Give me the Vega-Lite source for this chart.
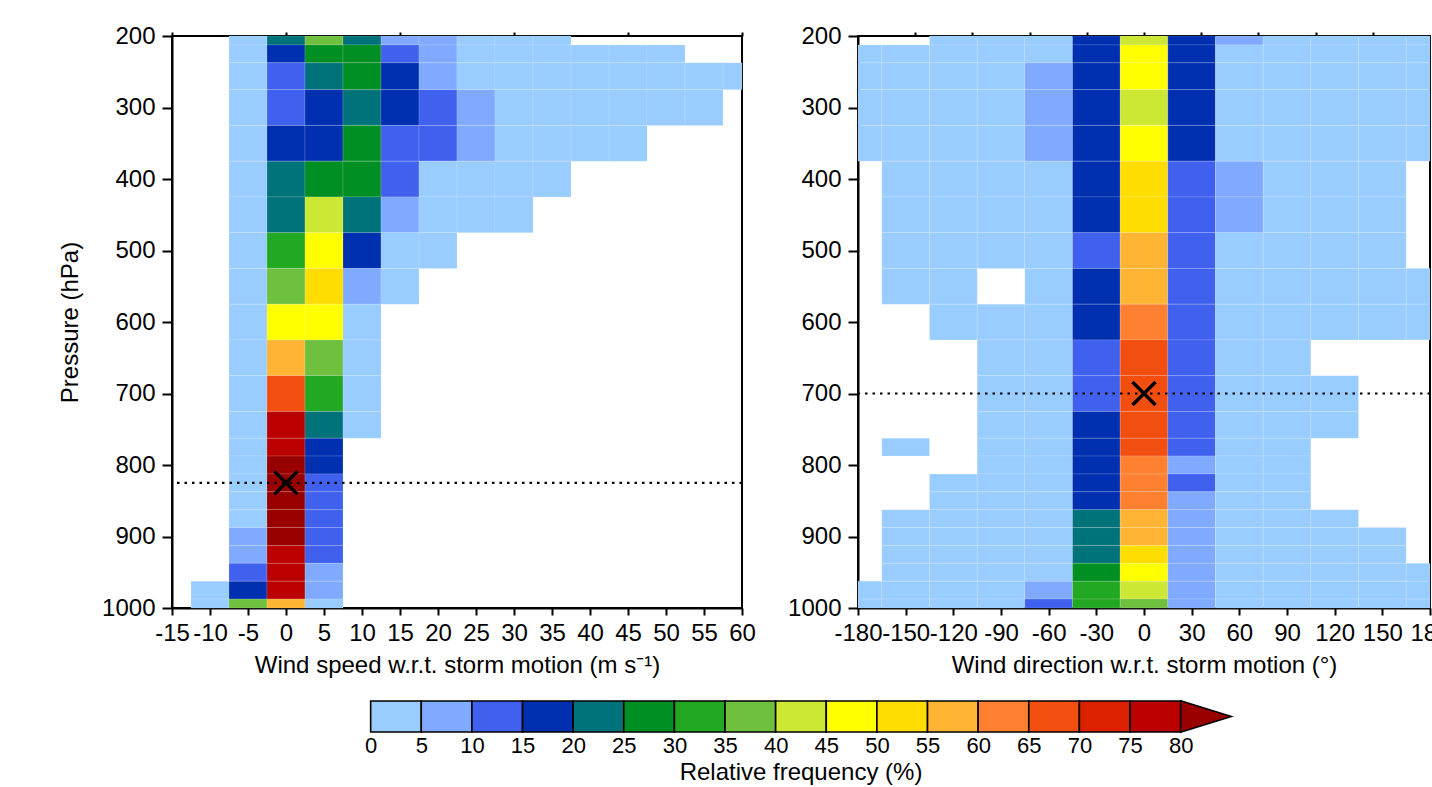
{
"$schema": "https://vega.github.io/schema/vega-lite/v6.json",
"background": "white",
"padding": {"left": 57, "top": 23, "right": 5, "bottom": 5},
"config": {
  "font": "Liberation Sans",
  "view": {"stroke": "black", "strokeWidth": 2},
  "axis": {"labelFont": "Liberation Sans", "titleFont": "Liberation Sans", "labelFontSize": 24, "titleFontSize": 24, "titleFontWeight": "normal", "labelColor": "black", "titleColor": "black", "domainColor": "black", "domainWidth": 2, "tickColor": "black", "tickWidth": 2, "grid": false, "labelOverlap": false, "labelFlush": false, "labelBound": false}
},
"datasets": {
  "levels": [{"p":200,"p0":200,"p1":212.5},{"p":225,"p0":212.5,"p1":237.5},{"p":250,"p0":237.5,"p1":275},{"p":300,"p0":275,"p1":325},{"p":350,"p0":325,"p1":375},{"p":400,"p0":375,"p1":425},{"p":450,"p0":425,"p1":475},{"p":500,"p0":475,"p1":525},{"p":550,"p0":525,"p1":575},{"p":600,"p0":575,"p1":625},{"p":650,"p0":625,"p1":675},{"p":700,"p0":675,"p1":725},{"p":750,"p0":725,"p1":762.5},{"p":775,"p0":762.5,"p1":787.5},{"p":800,"p0":787.5,"p1":812.5},{"p":825,"p0":812.5,"p1":837.5},{"p":850,"p0":837.5,"p1":862.5},{"p":875,"p0":862.5,"p1":887.5},{"p":900,"p0":887.5,"p1":912.5},{"p":925,"p0":912.5,"p1":937.5},{"p":950,"p0":937.5,"p1":962.5},{"p":975,"p0":962.5,"p1":987.5},{"p":1000,"p0":987.5,"p1":1000}],
  "speedcols": [{"x":-10,"x0":-12.5,"x1":-7.5},{"x":-5,"x0":-7.5,"x1":-2.5},{"x":0,"x0":-2.5,"x1":2.5},{"x":5,"x0":2.5,"x1":7.5},{"x":10,"x0":7.5,"x1":12.5},{"x":15,"x0":12.5,"x1":17.5},{"x":20,"x0":17.5,"x1":22.5},{"x":25,"x0":22.5,"x1":27.5},{"x":30,"x0":27.5,"x1":32.5},{"x":35,"x0":32.5,"x1":37.5},{"x":40,"x0":37.5,"x1":42.5},{"x":45,"x0":42.5,"x1":47.5},{"x":50,"x0":47.5,"x1":52.5},{"x":55,"x0":52.5,"x1":57.5},{"x":60,"x0":57.5,"x1":60}],
  "dircols": [{"x":-180,"x0":-180,"x1":-165},{"x":-150,"x0":-165,"x1":-135},{"x":-120,"x0":-135,"x1":-105},{"x":-90,"x0":-105,"x1":-75},{"x":-60,"x0":-75,"x1":-45},{"x":-30,"x0":-45,"x1":-15},{"x":0,"x0":-15,"x1":15},{"x":30,"x0":15,"x1":45},{"x":60,"x0":45,"x1":75},{"x":90,"x0":75,"x1":105},{"x":120,"x0":105,"x1":135},{"x":150,"x0":135,"x1":165},{"x":180,"x0":165,"x1":180}],
  "speed": [
    {"p":200,"x":-5,"f":2.5},{"p":200,"x":0,"f":22.5},{"p":200,"x":5,"f":37.5},{"p":200,"x":10,"f":22.5},{"p":200,"x":15,"f":7.5},{"p":200,"x":20,"f":7.5},{"p":200,"x":25,"f":2.5},{"p":200,"x":30,"f":2.5},{"p":200,"x":35,"f":2.5},
    {"p":225,"x":-5,"f":2.5},{"p":225,"x":0,"f":17.5},{"p":225,"x":5,"f":27.5},{"p":225,"x":10,"f":27.5},{"p":225,"x":15,"f":12.5},{"p":225,"x":20,"f":7.5},{"p":225,"x":25,"f":2.5},{"p":225,"x":30,"f":2.5},{"p":225,"x":35,"f":2.5},{"p":225,"x":40,"f":2.5},{"p":225,"x":45,"f":2.5},{"p":225,"x":50,"f":2.5},
    {"p":250,"x":-5,"f":2.5},{"p":250,"x":0,"f":12.5},{"p":250,"x":5,"f":22.5},{"p":250,"x":10,"f":27.5},{"p":250,"x":15,"f":17.5},{"p":250,"x":20,"f":7.5},{"p":250,"x":25,"f":2.5},{"p":250,"x":30,"f":2.5},{"p":250,"x":35,"f":2.5},{"p":250,"x":40,"f":2.5},{"p":250,"x":45,"f":2.5},{"p":250,"x":50,"f":2.5},{"p":250,"x":55,"f":2.5},{"p":250,"x":60,"f":2.5},
    {"p":300,"x":-5,"f":2.5},{"p":300,"x":0,"f":12.5},{"p":300,"x":5,"f":17.5},{"p":300,"x":10,"f":22.5},{"p":300,"x":15,"f":17.5},{"p":300,"x":20,"f":12.5},{"p":300,"x":25,"f":7.5},{"p":300,"x":30,"f":2.5},{"p":300,"x":35,"f":2.5},{"p":300,"x":40,"f":2.5},{"p":300,"x":45,"f":2.5},{"p":300,"x":50,"f":2.5},{"p":300,"x":55,"f":2.5},
    {"p":350,"x":-5,"f":2.5},{"p":350,"x":0,"f":17.5},{"p":350,"x":5,"f":17.5},{"p":350,"x":10,"f":27.5},{"p":350,"x":15,"f":12.5},{"p":350,"x":20,"f":12.5},{"p":350,"x":25,"f":7.5},{"p":350,"x":30,"f":2.5},{"p":350,"x":35,"f":2.5},{"p":350,"x":40,"f":2.5},{"p":350,"x":45,"f":2.5},
    {"p":400,"x":-5,"f":2.5},{"p":400,"x":0,"f":22.5},{"p":400,"x":5,"f":27.5},{"p":400,"x":10,"f":27.5},{"p":400,"x":15,"f":12.5},{"p":400,"x":20,"f":2.5},{"p":400,"x":25,"f":2.5},{"p":400,"x":30,"f":2.5},{"p":400,"x":35,"f":2.5},
    {"p":450,"x":-5,"f":2.5},{"p":450,"x":0,"f":22.5},{"p":450,"x":5,"f":42.5},{"p":450,"x":10,"f":22.5},{"p":450,"x":15,"f":7.5},{"p":450,"x":20,"f":2.5},{"p":450,"x":25,"f":2.5},{"p":450,"x":30,"f":2.5},
    {"p":500,"x":-5,"f":2.5},{"p":500,"x":0,"f":32.5},{"p":500,"x":5,"f":47.5},{"p":500,"x":10,"f":17.5},{"p":500,"x":15,"f":2.5},{"p":500,"x":20,"f":2.5},
    {"p":550,"x":-5,"f":2.5},{"p":550,"x":0,"f":37.5},{"p":550,"x":5,"f":52.5},{"p":550,"x":10,"f":7.5},{"p":550,"x":15,"f":2.5},
    {"p":600,"x":-5,"f":2.5},{"p":600,"x":0,"f":47.5},{"p":600,"x":5,"f":47.5},{"p":600,"x":10,"f":2.5},
    {"p":650,"x":-5,"f":2.5},{"p":650,"x":0,"f":57.5},{"p":650,"x":5,"f":37.5},{"p":650,"x":10,"f":2.5},
    {"p":700,"x":-5,"f":2.5},{"p":700,"x":0,"f":67.5},{"p":700,"x":5,"f":32.5},{"p":700,"x":10,"f":2.5},
    {"p":750,"x":-5,"f":2.5},{"p":750,"x":0,"f":77.5},{"p":750,"x":5,"f":22.5},{"p":750,"x":10,"f":2.5},
    {"p":775,"x":-5,"f":2.5},{"p":775,"x":0,"f":77.5},{"p":775,"x":5,"f":17.5},
    {"p":800,"x":-5,"f":2.5},{"p":800,"x":0,"f":85},{"p":800,"x":5,"f":17.5},
    {"p":825,"x":-5,"f":2.5},{"p":825,"x":0,"f":85},{"p":825,"x":5,"f":12.5},
    {"p":850,"x":-5,"f":2.5},{"p":850,"x":0,"f":85},{"p":850,"x":5,"f":12.5},
    {"p":875,"x":-5,"f":2.5},{"p":875,"x":0,"f":85},{"p":875,"x":5,"f":12.5},
    {"p":900,"x":-5,"f":7.5},{"p":900,"x":0,"f":85},{"p":900,"x":5,"f":12.5},
    {"p":925,"x":-5,"f":7.5},{"p":925,"x":0,"f":77.5},{"p":925,"x":5,"f":12.5},
    {"p":950,"x":-5,"f":12.5},{"p":950,"x":0,"f":77.5},{"p":950,"x":5,"f":7.5},
    {"p":975,"x":-10,"f":2.5},{"p":975,"x":-5,"f":17.5},{"p":975,"x":0,"f":77.5},{"p":975,"x":5,"f":7.5},
    {"p":1000,"x":-10,"f":2.5},{"p":1000,"x":-5,"f":37.5},{"p":1000,"x":0,"f":57.5},{"p":1000,"x":5,"f":2.5}
  ],
  "direction": [
    {"p":200,"x":-120,"f":2.5},{"p":200,"x":-90,"f":2.5},{"p":200,"x":-60,"f":2.5},{"p":200,"x":-30,"f":17.5},{"p":200,"x":0,"f":42.5},{"p":200,"x":30,"f":17.5},{"p":200,"x":60,"f":7.5},{"p":200,"x":90,"f":2.5},{"p":200,"x":120,"f":2.5},{"p":200,"x":150,"f":2.5},{"p":200,"x":180,"f":2.5},
    {"p":225,"x":-180,"f":2.5},{"p":225,"x":-150,"f":2.5},{"p":225,"x":-120,"f":2.5},{"p":225,"x":-90,"f":2.5},{"p":225,"x":-60,"f":2.5},{"p":225,"x":-30,"f":17.5},{"p":225,"x":0,"f":47.5},{"p":225,"x":30,"f":17.5},{"p":225,"x":60,"f":2.5},{"p":225,"x":90,"f":2.5},{"p":225,"x":120,"f":2.5},{"p":225,"x":150,"f":2.5},{"p":225,"x":180,"f":2.5},
    {"p":250,"x":-180,"f":2.5},{"p":250,"x":-150,"f":2.5},{"p":250,"x":-120,"f":2.5},{"p":250,"x":-90,"f":2.5},{"p":250,"x":-60,"f":7.5},{"p":250,"x":-30,"f":17.5},{"p":250,"x":0,"f":47.5},{"p":250,"x":30,"f":17.5},{"p":250,"x":60,"f":2.5},{"p":250,"x":90,"f":2.5},{"p":250,"x":120,"f":2.5},{"p":250,"x":150,"f":2.5},{"p":250,"x":180,"f":2.5},
    {"p":300,"x":-180,"f":2.5},{"p":300,"x":-150,"f":2.5},{"p":300,"x":-120,"f":2.5},{"p":300,"x":-90,"f":2.5},{"p":300,"x":-60,"f":7.5},{"p":300,"x":-30,"f":17.5},{"p":300,"x":0,"f":42.5},{"p":300,"x":30,"f":17.5},{"p":300,"x":60,"f":2.5},{"p":300,"x":90,"f":2.5},{"p":300,"x":120,"f":2.5},{"p":300,"x":150,"f":2.5},{"p":300,"x":180,"f":2.5},
    {"p":350,"x":-180,"f":2.5},{"p":350,"x":-150,"f":2.5},{"p":350,"x":-120,"f":2.5},{"p":350,"x":-90,"f":2.5},{"p":350,"x":-60,"f":7.5},{"p":350,"x":-30,"f":17.5},{"p":350,"x":0,"f":47.5},{"p":350,"x":30,"f":17.5},{"p":350,"x":60,"f":2.5},{"p":350,"x":90,"f":2.5},{"p":350,"x":120,"f":2.5},{"p":350,"x":150,"f":2.5},{"p":350,"x":180,"f":2.5},
    {"p":400,"x":-150,"f":2.5},{"p":400,"x":-120,"f":2.5},{"p":400,"x":-90,"f":2.5},{"p":400,"x":-60,"f":2.5},{"p":400,"x":-30,"f":17.5},{"p":400,"x":0,"f":52.5},{"p":400,"x":30,"f":12.5},{"p":400,"x":60,"f":7.5},{"p":400,"x":90,"f":2.5},{"p":400,"x":120,"f":2.5},{"p":400,"x":150,"f":2.5},
    {"p":450,"x":-150,"f":2.5},{"p":450,"x":-120,"f":2.5},{"p":450,"x":-90,"f":2.5},{"p":450,"x":-60,"f":2.5},{"p":450,"x":-30,"f":17.5},{"p":450,"x":0,"f":52.5},{"p":450,"x":30,"f":12.5},{"p":450,"x":60,"f":7.5},{"p":450,"x":90,"f":2.5},{"p":450,"x":120,"f":2.5},{"p":450,"x":150,"f":2.5},
    {"p":500,"x":-150,"f":2.5},{"p":500,"x":-120,"f":2.5},{"p":500,"x":-90,"f":2.5},{"p":500,"x":-60,"f":2.5},{"p":500,"x":-30,"f":12.5},{"p":500,"x":0,"f":57.5},{"p":500,"x":30,"f":12.5},{"p":500,"x":60,"f":2.5},{"p":500,"x":90,"f":2.5},{"p":500,"x":120,"f":2.5},{"p":500,"x":150,"f":2.5},
    {"p":550,"x":-150,"f":2.5},{"p":550,"x":-120,"f":2.5},{"p":550,"x":-60,"f":2.5},{"p":550,"x":-30,"f":17.5},{"p":550,"x":0,"f":57.5},{"p":550,"x":30,"f":12.5},{"p":550,"x":60,"f":2.5},{"p":550,"x":90,"f":2.5},{"p":550,"x":120,"f":2.5},{"p":550,"x":150,"f":2.5},{"p":550,"x":180,"f":2.5},
    {"p":600,"x":-120,"f":2.5},{"p":600,"x":-90,"f":2.5},{"p":600,"x":-60,"f":2.5},{"p":600,"x":-30,"f":17.5},{"p":600,"x":0,"f":62.5},{"p":600,"x":30,"f":12.5},{"p":600,"x":60,"f":2.5},{"p":600,"x":90,"f":2.5},{"p":600,"x":120,"f":2.5},{"p":600,"x":150,"f":2.5},{"p":600,"x":180,"f":2.5},
    {"p":650,"x":-90,"f":2.5},{"p":650,"x":-60,"f":2.5},{"p":650,"x":-30,"f":12.5},{"p":650,"x":0,"f":67.5},{"p":650,"x":30,"f":12.5},{"p":650,"x":60,"f":2.5},{"p":650,"x":90,"f":2.5},
    {"p":700,"x":-90,"f":2.5},{"p":700,"x":-60,"f":2.5},{"p":700,"x":-30,"f":12.5},{"p":700,"x":0,"f":67.5},{"p":700,"x":30,"f":12.5},{"p":700,"x":60,"f":2.5},{"p":700,"x":90,"f":2.5},{"p":700,"x":120,"f":2.5},
    {"p":750,"x":-90,"f":2.5},{"p":750,"x":-60,"f":2.5},{"p":750,"x":-30,"f":17.5},{"p":750,"x":0,"f":67.5},{"p":750,"x":30,"f":12.5},{"p":750,"x":60,"f":2.5},{"p":750,"x":90,"f":2.5},{"p":750,"x":120,"f":2.5},
    {"p":775,"x":-150,"f":2.5},{"p":775,"x":-90,"f":2.5},{"p":775,"x":-60,"f":2.5},{"p":775,"x":-30,"f":17.5},{"p":775,"x":0,"f":67.5},{"p":775,"x":30,"f":12.5},{"p":775,"x":60,"f":2.5},{"p":775,"x":90,"f":2.5},
    {"p":800,"x":-90,"f":2.5},{"p":800,"x":-60,"f":2.5},{"p":800,"x":-30,"f":17.5},{"p":800,"x":0,"f":62.5},{"p":800,"x":30,"f":7.5},{"p":800,"x":60,"f":2.5},{"p":800,"x":90,"f":2.5},
    {"p":825,"x":-120,"f":2.5},{"p":825,"x":-90,"f":2.5},{"p":825,"x":-60,"f":2.5},{"p":825,"x":-30,"f":17.5},{"p":825,"x":0,"f":62.5},{"p":825,"x":30,"f":12.5},{"p":825,"x":60,"f":2.5},{"p":825,"x":90,"f":2.5},
    {"p":850,"x":-120,"f":2.5},{"p":850,"x":-90,"f":2.5},{"p":850,"x":-60,"f":2.5},{"p":850,"x":-30,"f":17.5},{"p":850,"x":0,"f":62.5},{"p":850,"x":30,"f":7.5},{"p":850,"x":60,"f":2.5},{"p":850,"x":90,"f":2.5},
    {"p":875,"x":-150,"f":2.5},{"p":875,"x":-120,"f":2.5},{"p":875,"x":-90,"f":2.5},{"p":875,"x":-60,"f":2.5},{"p":875,"x":-30,"f":22.5},{"p":875,"x":0,"f":57.5},{"p":875,"x":30,"f":7.5},{"p":875,"x":60,"f":2.5},{"p":875,"x":90,"f":2.5},{"p":875,"x":120,"f":2.5},
    {"p":900,"x":-150,"f":2.5},{"p":900,"x":-120,"f":2.5},{"p":900,"x":-90,"f":2.5},{"p":900,"x":-60,"f":2.5},{"p":900,"x":-30,"f":22.5},{"p":900,"x":0,"f":57.5},{"p":900,"x":30,"f":7.5},{"p":900,"x":60,"f":2.5},{"p":900,"x":90,"f":2.5},{"p":900,"x":120,"f":2.5},{"p":900,"x":150,"f":2.5},
    {"p":925,"x":-150,"f":2.5},{"p":925,"x":-120,"f":2.5},{"p":925,"x":-90,"f":2.5},{"p":925,"x":-60,"f":2.5},{"p":925,"x":-30,"f":22.5},{"p":925,"x":0,"f":52.5},{"p":925,"x":30,"f":7.5},{"p":925,"x":60,"f":2.5},{"p":925,"x":90,"f":2.5},{"p":925,"x":120,"f":2.5},{"p":925,"x":150,"f":2.5},
    {"p":950,"x":-150,"f":2.5},{"p":950,"x":-120,"f":2.5},{"p":950,"x":-90,"f":2.5},{"p":950,"x":-60,"f":2.5},{"p":950,"x":-30,"f":27.5},{"p":950,"x":0,"f":47.5},{"p":950,"x":30,"f":7.5},{"p":950,"x":60,"f":2.5},{"p":950,"x":90,"f":2.5},{"p":950,"x":120,"f":2.5},{"p":950,"x":150,"f":2.5},{"p":950,"x":180,"f":2.5},
    {"p":975,"x":-180,"f":2.5},{"p":975,"x":-150,"f":2.5},{"p":975,"x":-120,"f":2.5},{"p":975,"x":-90,"f":2.5},{"p":975,"x":-60,"f":7.5},{"p":975,"x":-30,"f":32.5},{"p":975,"x":0,"f":42.5},{"p":975,"x":30,"f":7.5},{"p":975,"x":60,"f":2.5},{"p":975,"x":90,"f":2.5},{"p":975,"x":120,"f":2.5},{"p":975,"x":150,"f":2.5},{"p":975,"x":180,"f":2.5},
    {"p":1000,"x":-180,"f":2.5},{"p":1000,"x":-150,"f":2.5},{"p":1000,"x":-120,"f":2.5},{"p":1000,"x":-90,"f":2.5},{"p":1000,"x":-60,"f":12.5},{"p":1000,"x":-30,"f":32.5},{"p":1000,"x":0,"f":37.5},{"p":1000,"x":30,"f":7.5},{"p":1000,"x":60,"f":2.5},{"p":1000,"x":90,"f":2.5},{"p":1000,"x":120,"f":2.5},{"p":1000,"x":150,"f":2.5},{"p":1000,"x":180,"f":2.5}
  ],
  "legendbins": [{"lo":0,"hi":5,"f":2.5},{"lo":5,"hi":10,"f":7.5},{"lo":10,"hi":15,"f":12.5},{"lo":15,"hi":20,"f":17.5},{"lo":20,"hi":25,"f":22.5},{"lo":25,"hi":30,"f":27.5},{"lo":30,"hi":35,"f":32.5},{"lo":35,"hi":40,"f":37.5},{"lo":40,"hi":45,"f":42.5},{"lo":45,"hi":50,"f":47.5},{"lo":50,"hi":55,"f":52.5},{"lo":55,"hi":60,"f":57.5},{"lo":60,"hi":65,"f":62.5},{"lo":65,"hi":70,"f":67.5},{"lo":70,"hi":75,"f":72.5},{"lo":75,"hi":80,"f":77.5}],
  "legendarrow": [{"x":82.5,"f":85}]
},
"vconcat": [
  {
    "hconcat": [
      {
        "width": 570, "height": 572,
        "layer": [
          {
            "data": {"name": "speed"},
            "transform": [
              {"lookup": "p", "from": {"data": {"name": "levels"}, "key": "p", "fields": ["p0", "p1"]}},
              {"lookup": "x", "from": {"data": {"name": "speedcols"}, "key": "x", "fields": ["x0", "x1"]}}
            ],
            "mark": {"type": "rect", "stroke": "white", "strokeOpacity": 0.25, "strokeWidth": 0.6},
            "encoding": {
              "x": {"field": "x0", "type": "quantitative", "scale": {"domain": [-15, 60], "nice": false, "zero": false},
                    "axis": {"title": "Wind speed w.r.t. storm motion (m s⁻¹)", "orient": "bottom", "values": [-15,-10,-5,0,5,10,15,20,25,30,35,40,45,50,55,60], "labelExpr": "'' + datum.value", "tickSize": 7, "labelPadding": 6, "titlePadding": 8}},
              "x2": {"field": "x1"},
              "y": {"field": "p0", "type": "quantitative", "scale": {"domain": [200, 1000], "reverse": true, "nice": false, "zero": false},
                    "axis": {"title": "Pressure (hPa)", "orient": "left", "values": [200,300,400,500,600,700,800,900,1000], "labelExpr": "'' + datum.value", "tickSize": 10, "labelPadding": 7, "titlePadding": 19}},
              "y2": {"field": "p1"},
              "color": {"field": "f", "type": "quantitative", "legend": null,
                        "scale": {"type": "threshold", "domain": [5,10,15,20,25,30,35,40,45,50,55,60,65,70,75,80],
                                  "range": ["#99CCFF","#80AAFF","#4060EE","#0030B0","#00737A","#008F22","#22A822","#70C040","#CCE835","#FFFF00","#FFDD00","#FFB533","#FF8030","#F24E10","#DD2000","#BB0000","#990000"]}}
            }
          },
          {
            "data": {"values": [{"x": 0, "p": 825}]},
            "layer": [
              {"mark": {"type": "rule", "strokeDash": [2.5, 5], "strokeWidth": 2.2, "color": "black"},
               "encoding": {"y": {"field": "p", "type": "quantitative", "scale": {"domain": [200, 1000], "reverse": true, "nice": false, "zero": false},
                                  "axis": {"orient": "left", "values": [225,250,350,450,550,650,750,775,825,850,875,925,950,975], "labels": false, "tickSize": 5, "domain": false, "title": null}}}},
              {"mark": {"type": "point", "shape": "M-1,-1L1,1M-1,1L1,-1", "size": 530, "filled": false, "color": "black", "strokeWidth": 3.5, "opacity": 1},
               "encoding": {"x": {"field": "x", "type": "quantitative", "scale": {"domain": [-15, 60], "nice": false, "zero": false},
                                  "axis": {"orient": "top", "values": [-15,0,15,30,45,60], "labels": false, "tickSize": 4, "domain": false, "title": null}},
                            "y": {"field": "p", "type": "quantitative", "axis": null}}}
            ]
          }
        ],
        "resolve": {"axis": {"x": "independent", "y": "independent"}}
      },
      {
        "width": 572, "height": 572,
        "layer": [
          {
            "data": {"name": "direction"},
            "transform": [
              {"lookup": "p", "from": {"data": {"name": "levels"}, "key": "p", "fields": ["p0", "p1"]}},
              {"lookup": "x", "from": {"data": {"name": "dircols"}, "key": "x", "fields": ["x0", "x1"]}}
            ],
            "mark": {"type": "rect", "stroke": "white", "strokeOpacity": 0.25, "strokeWidth": 0.6},
            "encoding": {
              "x": {"field": "x0", "type": "quantitative", "scale": {"domain": [-180, 180], "nice": false, "zero": false},
                    "axis": {"title": "Wind direction w.r.t. storm motion (°)", "orient": "bottom", "values": [-180,-150,-120,-90,-60,-30,0,30,60,90,120,150,180], "labelExpr": "'' + datum.value", "tickSize": 7, "labelPadding": 6, "titlePadding": 8}},
              "x2": {"field": "x1"},
              "y": {"field": "p0", "type": "quantitative", "scale": {"domain": [200, 1000], "reverse": true, "nice": false, "zero": false},
                    "axis": {"title": null, "orient": "left", "values": [200,300,400,500,600,700,800,900,1000], "labelExpr": "'' + datum.value", "tickSize": 10, "labelPadding": 7}},
              "y2": {"field": "p1"},
              "color": {"field": "f", "type": "quantitative", "legend": null,
                        "scale": {"type": "threshold", "domain": [5,10,15,20,25,30,35,40,45,50,55,60,65,70,75,80],
                                  "range": ["#99CCFF","#80AAFF","#4060EE","#0030B0","#00737A","#008F22","#22A822","#70C040","#CCE835","#FFFF00","#FFDD00","#FFB533","#FF8030","#F24E10","#DD2000","#BB0000","#990000"]}}
            }
          },
          {
            "data": {"values": [{"x": 0, "p": 700}]},
            "layer": [
              {"mark": {"type": "rule", "strokeDash": [2.5, 5], "strokeWidth": 2.2, "color": "black"},
               "encoding": {"y": {"field": "p", "type": "quantitative", "scale": {"domain": [200, 1000], "reverse": true, "nice": false, "zero": false},
                                  "axis": {"orient": "left", "values": [225,250,350,450,550,650,750,775,825,850,875,925,950,975], "labels": false, "tickSize": 5, "domain": false, "title": null}}}},
              {"mark": {"type": "point", "shape": "M-1,-1L1,1M-1,1L1,-1", "size": 530, "filled": false, "color": "black", "strokeWidth": 3.5, "opacity": 1},
               "encoding": {"x": {"field": "x", "type": "quantitative", "scale": {"domain": [-180, 180], "nice": false, "zero": false},
                                  "axis": {"orient": "top", "values": [-144,-108,-72,-36,0,36,72,108,144], "labels": false, "tickSize": 4, "domain": false, "title": null}},
                            "y": {"field": "p", "type": "quantitative", "axis": null}}}
            ]
          }
        ],
        "resolve": {"axis": {"x": "independent", "y": "independent"}}
      }
    ],
    "spacing": 29
  },
  {
    "width": 1257, "height": 31,
    "view": {"stroke": null},
    "layer": [
      {
        "data": {"name": "legendbins"},
        "mark": {"type": "rect", "stroke": "black", "strokeWidth": 1.6},
        "encoding": {
          "x": {"field": "lo", "type": "quantitative", "scale": {"domain": [-19.62, 104.53], "nice": false, "zero": false},
                "axis": {"title": "Relative frequency (%)", "orient": "bottom", "values": [0,5,10,15,20,25,30,35,40,45,50,55,60,65,70,75,80], "labelExpr": "'' + datum.value", "ticks": false, "domain": false, "labelPadding": 3, "labelFontSize": 22, "titlePadding": 4}},
          "x2": {"field": "hi"},
          "color": {"field": "f", "type": "quantitative", "legend": null,
                    "scale": {"type": "threshold", "domain": [5,10,15,20,25,30,35,40,45,50,55,60,65,70,75,80],
                              "range": ["#99CCFF","#80AAFF","#4060EE","#0030B0","#00737A","#008F22","#22A822","#70C040","#CCE835","#FFFF00","#FFDD00","#FFB533","#FF8030","#F24E10","#DD2000","#BB0000","#990000"]}}
        }
      },
      {
        "data": {"name": "legendarrow"},
        "mark": {"type": "point", "shape": "M-1,-0.62L1,0L-1,0.62Z", "size": 2560, "filled": true, "stroke": "black", "strokeWidth": 1.6, "opacity": 1},
        "encoding": {
          "x": {"field": "x", "type": "quantitative", "scale": {"domain": [-19.62, 104.53], "nice": false, "zero": false}, "axis": null},
          "color": {"field": "f", "type": "quantitative", "legend": null,
                    "scale": {"type": "threshold", "domain": [5,10,15,20,25,30,35,40,45,50,55,60,65,70,75,80],
                              "range": ["#99CCFF","#80AAFF","#4060EE","#0030B0","#00737A","#008F22","#22A822","#70C040","#CCE835","#FFFF00","#FFDD00","#FFB533","#FF8030","#F24E10","#DD2000","#BB0000","#990000"]}}
        }
      }
    ],
    "resolve": {"axis": {"x": "independent"}}
  }
],
"spacing": 19
}
